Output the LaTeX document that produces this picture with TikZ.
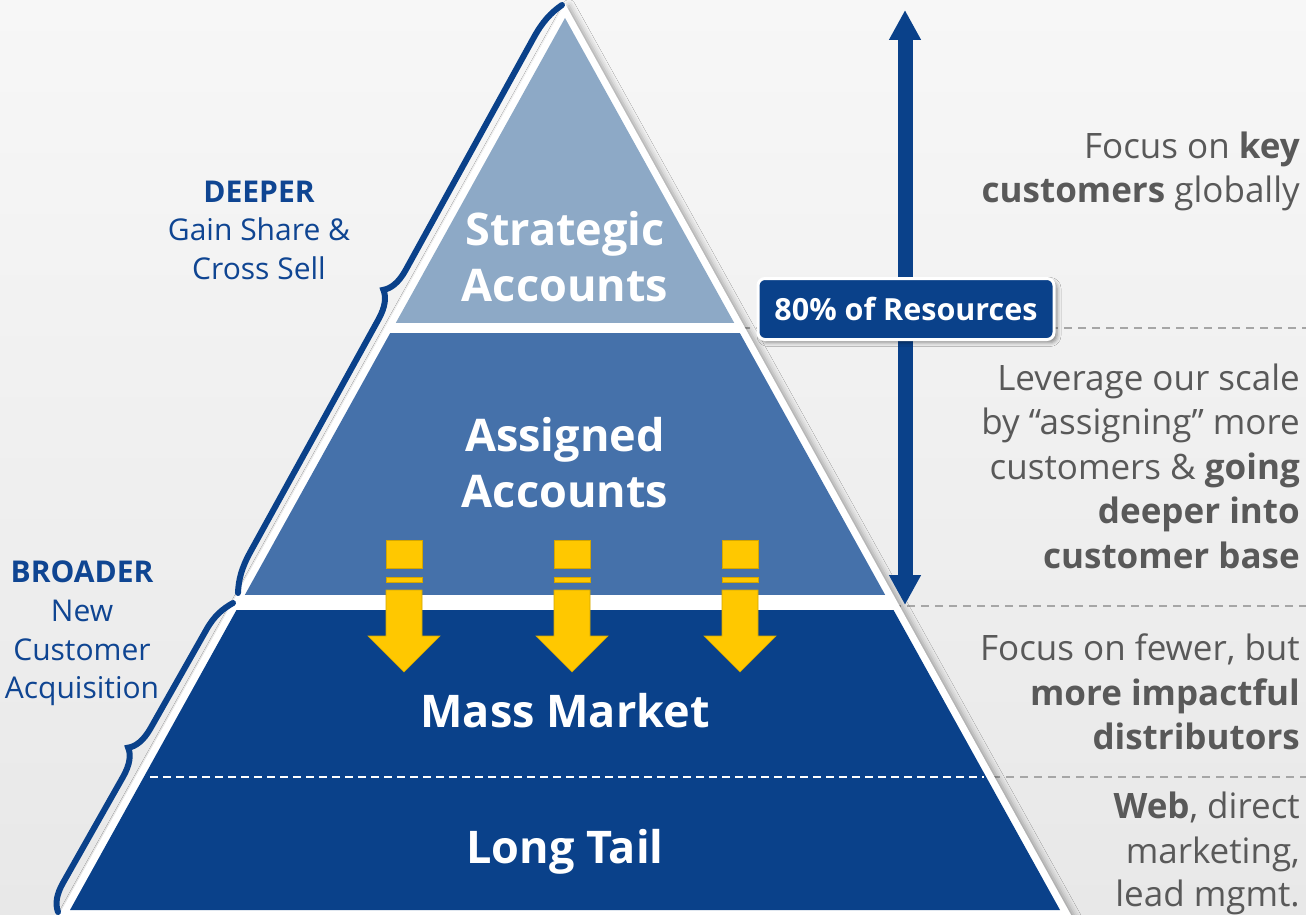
\documentclass[tikz,border=0pt]{standalone}
\usepackage{fontspec}
\setmainfont{Open Sans}
\usetikzlibrary{arrows.meta,shadows.blur}
\definecolor{dkblue}{HTML}{0A418A}
\definecolor{mdblue}{HTML}{4571AA}
\definecolor{ltblue}{HTML}{8DA9C6}
\definecolor{ayellow}{HTML}{FFC800}
\definecolor{ayedge}{HTML}{D4A600}
\definecolor{txtgray}{HTML}{595959}
\definecolor{lblue}{HTML}{0F4592}
\definecolor{guidegray}{HTML}{A6A6A6}
\definecolor{bgtop}{HTML}{F7F7F7}
\definecolor{bgbot}{HTML}{E8E8E8}
\begin{document}
\begin{tikzpicture}[x=1pt,y=-1pt,
  rtext/.style={anchor=base east, inner sep=0pt, text=txtgray, font=\fontsize{35}{40}\selectfont},
  ltext/.style={anchor=base, inner sep=0pt, text=lblue, font=\fontsize{30}{36}\selectfont},
  lbold/.style={ltext, font=\bfseries\fontsize{30}{36}\selectfont},
  ptext/.style={anchor=base, inner sep=0pt, text=white, font=\bfseries\fontsize{45}{52}\selectfont},
  guide/.style={guidegray, line width=1.6pt, dash pattern=on 8pt off 6pt},
  divider/.style={white, line width=2pt, dash pattern=on 8pt off 5pt},
  brace/.style={dkblue, line width=6pt, line cap=round},
  resarrow/.style={dkblue, line width=15pt, {Triangle[width=30pt,length=30pt]}-{Triangle[width=30pt,length=30pt]}},
  resbox/.style={fill=dkblue, draw=white, line width=3pt, rounded corners=7pt, minimum width=296pt, minimum height=61pt, text=white, font=\bfseries\fontsize{30.5}{36}\selectfont, blur shadow={shadow xshift=3pt, shadow yshift=-3pt, shadow blur radius=4pt, shadow opacity=45}},
  yarrow/.style={fill=ayellow, draw=ayedge, line width=0.6pt}
]
\useasboundingbox (0,0) rectangle (1306,915);
\shade[top color=bgtop, bottom color=bgbot] (0,0) rectangle (1306,915);

% guide lines
\coordinate (g1a) at (742,328); \coordinate (g1b) at (1306,328);
\coordinate (g2a) at (893,606); \coordinate (g2b) at (1306,606);
\coordinate (g3a) at (992,777); \coordinate (g3b) at (1306,777);
\draw[guide] (g1a) -- (g1b);
\draw[guide] (g2a) -- (g2b);
\draw[guide] (g3a) -- (g3b);

% pyramid
\fill[white, blur shadow={shadow xshift=4pt, shadow yshift=-2pt, shadow blur radius=6pt, shadow opacity=35}] (565,3.6) -- (1075,922) -- (55,922) -- cycle;
\begin{scope}
\clip (565,18) -- (1060,910) -- (70,910) -- cycle;
\fill[ltblue] (0,0) rectangle (1306,323);
\fill[mdblue] (0,333) rectangle (1306,595);
\fill[dkblue] (0,610) rectangle (1306,915);
\end{scope}
\coordinate (d1) at (150,777); \coordinate (d2) at (984,777);
\draw[divider] (d1) -- (d2);

% yellow arrows
\foreach \cx in {404,572,740} {
  \fill[yarrow] ({\cx-18},540) rectangle ({\cx+18},568);
  \fill[yarrow] ({\cx-18},577) rectangle ({\cx+18},582);
  \fill[yarrow] ({\cx-18},590) -- ({\cx+18},590) -- ({\cx+18},636) -- ({\cx+36},636) -- (\cx,672) -- ({\cx-36},636) -- ({\cx-18},636) -- cycle;
}

% braces
\begin{scope}[shift={(562,5)}, x={(-0.4826pt,-0.8758pt)}, y={(-0.8758pt,0.4826pt)}]
\draw[brace] (0,0) .. controls (12,6) and (24,9) .. (42,9) -- (307.7,9) .. controls (322,9) and (331,13) .. (335.7,19) .. controls (340.4,13) and (349.4,9) .. (363.7,9) -- (629.4,9) .. controls (647.4,9) and (659.4,6) .. (671.4,0);
\end{scope}
\begin{scope}[shift={(233,603)}, x={(-0.4928pt,-0.8702pt)}, y={(-0.8702pt,0.4928pt)}]
\draw[brace] (0,0) .. controls (10,6) and (20,10) .. (36,10) -- (149.5,10) .. controls (164,10) and (173,14) .. (177.55,20) .. controls (182,14) and (191,10) .. (205.5,10) -- (327,10) .. controls (340,10) and (349,7) .. (355.1,0);
\end{scope}

% resources arrow
\coordinate (rtop) at (905,10);
\coordinate (rbot) at (905,605);
\draw[resarrow] (rtop) -- (rbot);
\node[resbox] (res) at (906,309) {80\% of Resources};

% pyramid labels
\node[ptext] (sa1) at (565,245) {Strategic};
\node[ptext] (sa2) at (565,301) {Accounts};
\node[ptext] (as1) at (565,451) {Assigned};
\node[ptext] (as2) at (565,507) {Accounts};
\node[ptext] (mm) at (565,727) {Mass Market};
\node[ptext] (lt) at (565,863) {Long Tail};

% left labels
\node[lbold] (dp1) at (259,202) {DEEPER};
\node[ltext] (dp2) at (259,240.5) {Gain Share \&};
\node[ltext] (dp3) at (259,279) {Cross Sell};
\node[lbold] (br1) at (82,582) {BROADER};
\node[ltext] (br2) at (82,621) {New};
\node[ltext] (br3) at (82,660) {Customer};
\node[ltext] (br4) at (82,698) {Acquisition};

% right labels
\node[rtext] (r1) at (1300,158) {Focus on \textbf{key}};
\node[rtext] (r2) at (1300,202) {\textbf{customers} globally};
\node[rtext] (r3) at (1300,390) {Leverage our scale};
\node[rtext] (r4) at (1300,434.5) {by “assigning” more};
\node[rtext] (r5) at (1300,479) {customers \& \textbf{going}};
\node[rtext] (r6) at (1300,523.5) {\textbf{deeper into}};
\node[rtext] (r7) at (1300,568) {\textbf{customer base}};
\node[rtext] (r8) at (1300,660) {Focus on fewer, but};
\node[rtext] (r9) at (1300,705) {\textbf{more impactful}};
\node[rtext] (r10) at (1300,749) {\textbf{distributors}};
\node[rtext] (r11) at (1300,818) {\textbf{Web}, direct};
\node[rtext] (r12) at (1300,863) {marketing,};
\node[rtext] (r13) at (1300,906) {lead mgmt.};
\end{tikzpicture}
\end{document}
